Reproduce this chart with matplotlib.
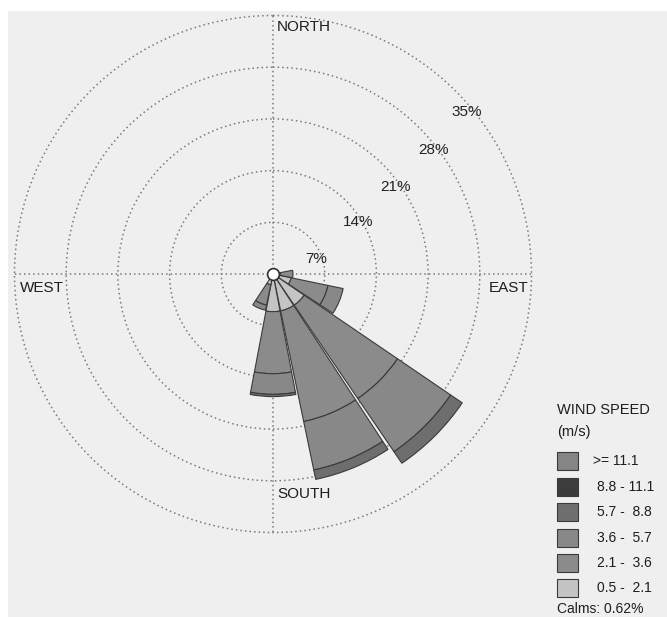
import numpy as np
import matplotlib
matplotlib.use("Agg")
import matplotlib.pyplot as plt
from matplotlib.patches import Rectangle

plt.rcParams['font.family'] = ['Liberation Sans', 'DejaVu Sans']

# ---- data ----
directions = ["N", "NNE", "NE", "ENE", "E", "ESE", "SE", "SSE",
              "S", "SSW", "SW", "WSW", "W", "WNW", "NW", "NNW"]
bearings = [0, 22.5, 45, 67.5, 90, 112.5, 135, 157.5,
            180, 202.5, 225, 247.5, 270, 292.5, 315, 337.5]
speed_classes = ["0.5 -  2.1", "2.1 -  3.6", "3.6 -  5.7", "5.7 -  8.8", "8.8 - 11.1", ">= 11.1"]
# frequency (%) per direction for each speed class
freq_0p5_2p1 = [0, 0, 0, 0, 1.0, 2.5, 5.1, 5.1, 5.1, 1.5, 0, 0, 0, 0, 0, 0]
freq_2p1_3p6 = [0, 0, 0, 0, 1.7, 5.1, 15.3, 15.3, 8.4, 2.8, 0, 0, 0, 0, 0, 0]
freq_3p6_5p7 = [0, 0, 0, 0, 0, 2.1, 8.7, 6.7, 2.8, 0.7, 0, 0, 0, 0, 0, 0]
freq_5p7_8p8 = [0, 0, 0, 0, 0, 0, 1.9, 1.3, 0.3, 0, 0, 0, 0, 0, 0, 0]
freq_8p8_11p1 = [0] * 16
freq_ge_11p1 = [0] * 16
ring_values = [7, 14, 21, 28, 35]
ring_labels = ["7%", "14%", "21%", "28%", "35%"]
calms_label = "Calms: 0.62%"

bands = [freq_0p5_2p1, freq_2p1_3p6, freq_3p6_5p7, freq_5p7_8p8, freq_8p8_11p1, freq_ge_11p1]
band_colors = ['#c4c4c4', '#8b8b8b', '#888888', '#6e6e6e', '#3c3c3c', '#858585']

W, H = 667, 617
fig = plt.figure(figsize=(W / 100, H / 100), dpi=100)
fig.patch.set_facecolor('white')
fig.patches.append(Rectangle((8 / W, 0), 1, (H - 11) / H, transform=fig.transFigure,
                             facecolor='#efefef', edgecolor='none', zorder=-10))

cx, cy, R = 273, 274, 258.5
R2 = 263.0  # axes radius in px, a little larger so the 35% ring is not clipped
ax = fig.add_axes([(cx - R2) / W, (H - cy - R2) / H, 2 * R2 / W, 2 * R2 / H], projection='polar')
ax.set_facecolor('none')
ax.set_theta_zero_location('N')
ax.set_theta_direction(-1)
ax.set_ylim(0, 35 * R2 / R)
ax.spines['polar'].set_visible(False)
ax.set_rticks(ring_values)
ax.set_yticklabels([])
ax.set_thetagrids([0, 90, 180, 270], labels=[''] * 4)
ax.grid(True, linestyle=(0, (1, 2)), color='#7a7a7a', linewidth=1.1)
ax.set_axisbelow(True)
# theta gridlines only up to the 35% ring
for gl in ax.xaxis.get_gridlines():
    gl.set_visible(False)
for b in [0, 90, 180, 270]:
    ax.plot([np.radians(b)] * 2, [0, 35], linestyle=(0, (1, 2)), color='#7a7a7a',
            linewidth=1.1, zorder=1)

theta = np.radians(bearings)
width = np.radians(21.5)
cum = np.zeros(16)
for vals, col in zip(bands, band_colors):
    vals = np.array(vals, dtype=float)
    m = vals > 0
    if m.any():
        ax.bar(theta[m], vals[m], width=width, bottom=cum[m], color=col,
               edgecolor='#3a3a3a', linewidth=0.8, zorder=3)
    cum = cum + vals

ax.plot([0], [0], 'o', ms=8.5, mfc='white', mec='#303030', mew=1.2, zorder=5, clip_on=False)

# ring labels along NE
label_pos = [(70.8, 6.2), (58.5, 13.5), (54.7, 20.4), (52.4, 27.5), (50.1, 34.2)]
for (b, r), t in zip(label_pos, ring_labels):
    ax.text(np.radians(b), r, t, ha='center', va='center', fontsize=11, color='#222222', zorder=6)

def ftext(x, y, s, **kw):
    fig.text(x / W, 1 - y / H, s, color='#1e1e1e', **kw)

ftext(277, 27, "NORTH", fontsize=11, ha='left', va='center')
ftext(277, 494, "SOUTH", fontsize=11, ha='left', va='center')
ftext(20, 288, "WEST", fontsize=11, ha='left', va='center')
ftext(529, 288, "EAST", fontsize=11, ha='right', va='center')

# legend
ftext(557, 410, "WIND SPEED", fontsize=10.5, ha='left', va='center')
ftext(557, 432, "(m/s)", fontsize=10.5, ha='left', va='center')
legend_labels = [">= 11.1", "8.8 - 11.1", "5.7 -  8.8", "3.6 -  5.7", "2.1 -  3.6", "0.5 -  2.1"]
legend_colors = band_colors[::-1]
row_y = [461, 487, 512, 538, 563, 588]
for yy, lab, col in zip(row_y, legend_labels, legend_colors):
    fig.patches.append(Rectangle((557 / W, 1 - (yy + 9) / H), 21 / W, 18 / H,
                                 transform=fig.transFigure, facecolor=col,
                                 edgecolor='#3a3a3a', linewidth=0.8))
    x0 = 593 if lab.startswith('>') else 597
    ftext(x0, yy, lab, fontsize=10, ha='left', va='center')
ftext(557, 609, calms_label, fontsize=10, ha='left', va='center')

fig.savefig("out.png", dpi=100, facecolor=fig.get_facecolor())
